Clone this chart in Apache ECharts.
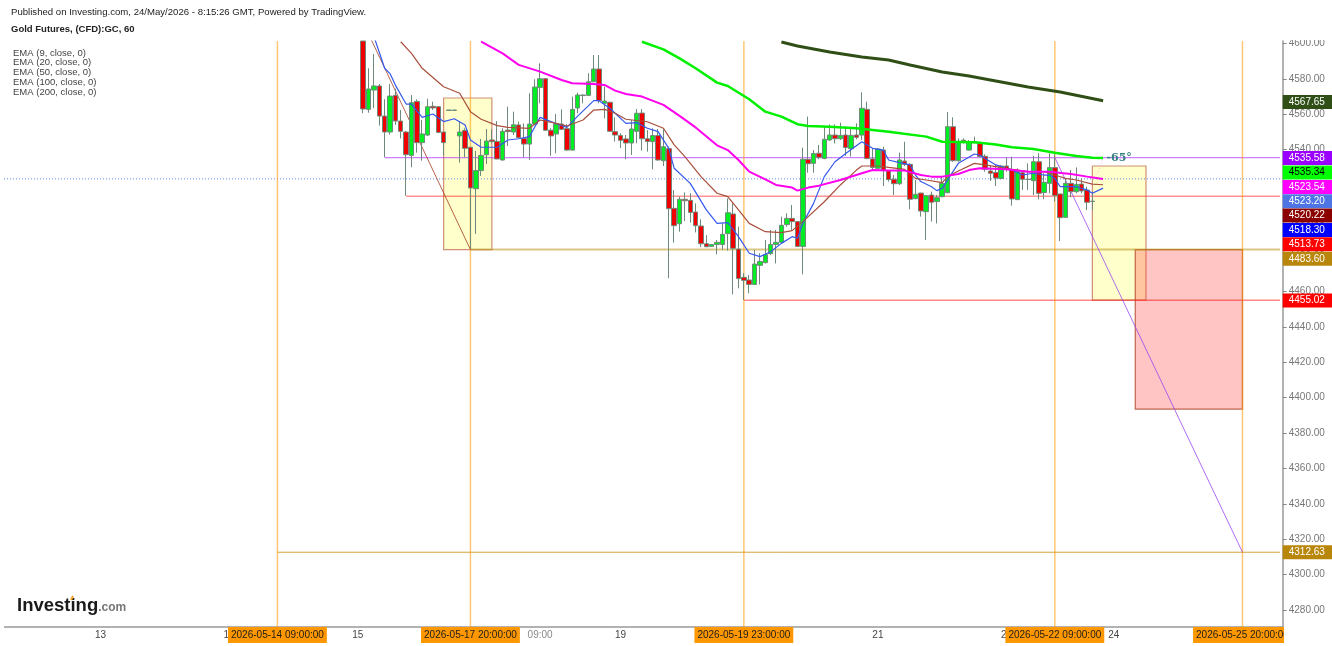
<!DOCTYPE html>
<html>
<head>
<meta charset="utf-8">
<style>html,body{margin:0;padding:0;background:#fff}#main{width:1332px;height:646px}</style>
<script src="https://cdn.jsdelivr.net/npm/echarts@6/dist/echarts.min.js"></script>
</head>
<body>
<div id="main"></div>
<script>
// hourly bars, first visible one sits at slot 67
const slotCount = 239;
const firstBar = 67;

const opens = [
  4601.4, 4562.8, 4573.7, 4576.0, 4559.0, 4550.0, 4570.7, 4556.2, 4550.0, 4536.8,
  4567.3, 4544.0, 4548.3, 4564.5, 4564.3, 4550.0, 4562.2, 4562.2, 4547.8, 4550.8,
  4541.4, 4518.0, 4528.2, 4537.2, 4545.5, 4544.7, 4534.2, 4551.1, 4550.0, 4554.0,
  4546.4, 4543.2, 4554.5, 4575.2, 4580.1, 4551.0, 4548.9, 4554.5, 4551.9, 4539.8,
  4563.6, 4570.9, 4570.7, 4578.4, 4585.6, 4566.2, 4566.8, 4550.2, 4548.1, 4546.1,
  4543.8, 4550.4, 4560.7, 4546.2, 4544.6, 4548.0, 4533.8, 4540.6, 4506.9, 4498.2,
  4512.0, 4511.4, 4504.8, 4496.9, 4486.9, 4485.4, 4486.5, 4486.5, 4492.6, 4503.7,
  4483.9, 4467.9, 4466.4, 4463.9, 4474.7, 4476.2, 4481.3, 4486.5, 4487.7, 4497.7,
  4501.2, 4499.4, 4485.4, 4534.6, 4532.3, 4538.0, 4535.1, 4545.5, 4548.3, 4546.2,
  4548.3, 4540.6, 4548.3, 4548.3, 4562.8, 4534.8, 4529.5, 4539.8, 4528.2, 4523.3,
  4520.8, 4533.6, 4531.7, 4512.4, 4515.5, 4505.0, 4514.4, 4510.7, 4513.5, 4515.7,
  4553.0, 4533.8, 4545.4, 4539.8, 4544.0, 4543.8, 4536.3, 4528.0, 4527.2, 4523.8,
  4530.8, 4528.9, 4511.8, 4527.0, 4523.3, 4522.5, 4533.2, 4515.8, 4521.0, 4529.9,
  4515.0, 4501.8, 4521.0, 4516.3, 4520.6, 4517.2, 4510.8
];
const closes = [
  4563.0, 4574.3, 4576.0, 4559.0, 4550.0, 4570.3, 4556.2, 4550.4, 4537.2, 4566.6,
  4544.0, 4548.9, 4564.3, 4563.6, 4549.8, 4544.0, 4562.4, 4562.4, 4550.0, 4540.8,
  4518.4, 4528.2, 4536.8, 4544.9, 4544.6, 4534.8, 4550.4, 4550.2, 4554.1, 4546.8,
  4543.2, 4554.5, 4575.4, 4580.1, 4551.0, 4547.8, 4554.5, 4551.5, 4539.8, 4562.8,
  4570.9, 4570.6, 4578.4, 4585.6, 4567.7, 4567.5, 4550.4, 4548.3, 4545.3, 4543.8,
  4551.7, 4560.6, 4546.2, 4544.7, 4548.0, 4534.2, 4541.7, 4506.7, 4497.1, 4512.0,
  4511.2, 4504.6, 4497.1, 4486.9, 4485.2, 4486.5, 4487.7, 4492.2, 4504.4, 4484.3,
  4467.2, 4466.2, 4463.9, 4475.4, 4476.9, 4480.7, 4486.5, 4487.7, 4497.3, 4501.2,
  4499.4, 4485.4, 4534.6, 4532.1, 4537.8, 4535.7, 4545.9, 4548.3, 4546.2, 4548.1,
  4541.2, 4548.1, 4547.0, 4563.4, 4535.1, 4530.0, 4540.4, 4528.2, 4523.1, 4520.8,
  4534.2, 4531.7, 4512.0, 4514.8, 4505.4, 4514.0, 4510.3, 4512.9, 4521.0, 4553.0,
  4533.8, 4544.5, 4544.4, 4544.2, 4544.6, 4536.1, 4528.9, 4526.7, 4524.0, 4530.8,
  4528.9, 4512.2, 4527.6, 4523.3, 4523.2, 4533.2, 4515.4, 4521.6, 4529.9, 4514.2,
  4501.6, 4521.0, 4516.3, 4520.4, 4516.7, 4510.3, 4510.9
];
const lows = [
  4560.6, 4560.9, 4563.4, 4553.6, 4535.7, 4548.5, 4554.0, 4546.4, 4514.0, 4530.1,
  4538.3, 4533.8, 4547.8, 4562.4, 4549.3, 4537.0, 4562.2, 4562.2, 4532.7, 4535.7,
  4483.9, 4492.4, 4525.2, 4531.9, 4543.6, 4534.6, 4533.8, 4542.1, 4548.3, 4546.4,
  4535.7, 4534.2, 4554.0, 4566.2, 4550.8, 4536.6, 4538.0, 4551.1, 4539.5, 4539.5,
  4560.6, 4566.2, 4570.3, 4578.2, 4566.2, 4557.7, 4550.2, 4544.6, 4541.0, 4534.6,
  4537.0, 4543.6, 4539.5, 4538.9, 4528.9, 4533.8, 4530.8, 4467.4, 4487.5, 4493.7,
  4499.7, 4498.8, 4493.3, 4484.9, 4484.9, 4485.2, 4480.9, 4483.4, 4483.0, 4458.3,
  4461.7, 4455.1, 4458.9, 4463.6, 4463.9, 4475.8, 4480.5, 4475.8, 4487.1, 4496.5,
  4494.7, 4485.2, 4469.6, 4527.0, 4527.0, 4534.6, 4534.6, 4545.1, 4543.6, 4545.5,
  4536.5, 4536.1, 4545.9, 4545.5, 4534.6, 4528.9, 4528.9, 4519.5, 4522.0, 4514.4,
  4520.1, 4530.8, 4506.3, 4512.0, 4502.2, 4489.0, 4499.4, 4498.4, 4513.1, 4515.4,
  4533.2, 4533.2, 4543.5, 4539.5, 4543.6, 4535.7, 4527.6, 4522.3, 4519.5, 4523.3,
  4527.6, 4508.4, 4511.6, 4517.3, 4517.3, 4514.4, 4512.0, 4512.0, 4515.4, 4510.7,
  4488.4, 4501.6, 4513.1, 4515.4, 4515.4, 4505.9, 4505.9
];
const highs = [
  4601.4, 4586.0, 4594.1, 4577.1, 4568.5, 4577.1, 4574.5, 4562.4, 4550.5, 4570.9,
  4568.5, 4556.8, 4568.8, 4567.1, 4564.6, 4550.3, 4562.4, 4562.4, 4555.9, 4552.1,
  4541.6, 4539.3, 4546.1, 4551.7, 4551.5, 4556.2, 4552.1, 4564.3, 4561.5, 4555.9,
  4554.9, 4571.9, 4579.8, 4588.8, 4580.4, 4552.1, 4560.2, 4562.8, 4554.5, 4570.0,
  4572.2, 4571.2, 4583.2, 4593.5, 4593.5, 4575.6, 4567.0, 4558.3, 4549.3, 4548.3,
  4556.8, 4563.0, 4563.0, 4551.1, 4552.1, 4551.7, 4551.5, 4541.7, 4517.2, 4513.5,
  4515.9, 4515.4, 4509.7, 4500.7, 4491.8, 4486.7, 4489.0, 4498.4, 4512.5, 4509.7,
  4496.5, 4470.2, 4469.2, 4483.4, 4481.5, 4489.0, 4494.7, 4494.7, 4502.2, 4504.1,
  4508.8, 4499.6, 4541.2, 4558.7, 4539.8, 4542.7, 4553.0, 4554.3, 4554.3, 4555.3,
  4553.0, 4553.0, 4554.9, 4572.4, 4567.1, 4540.8, 4540.8, 4541.7, 4528.5, 4525.7,
  4538.3, 4544.5, 4532.3, 4522.9, 4515.7, 4514.4, 4516.3, 4514.4, 4524.8, 4561.3,
  4558.3, 4546.4, 4546.4, 4545.5, 4547.4, 4544.6, 4537.4, 4530.8, 4531.4, 4531.4,
  4535.7, 4536.1, 4529.5, 4528.5, 4532.3, 4536.5, 4538.0, 4526.7, 4538.0, 4537.4,
  4515.0, 4523.8, 4528.5, 4530.0, 4523.8, 4519.1, 4516.3
];

// moving averages as [slot, value]
const ema9 = [[69,4604],[71,4586],[72,4583],[73,4576.5],[75,4565.8],[76,4565.8],[78,4558.3],[80,4560.2],[82,4555.9],[84,4557.5],[86,4554],[87,4545.5],[89,4541.4],[92,4541.4],[94,4545.5],[96,4546.2],[98,4547.4],[100,4558.3],[102,4555.9],[105,4552.6],[107,4559],[110,4567.7],[111,4567.7],[113,4563.4],[116,4554.9],[118,4555.3],[120,4552.1],[122,4550.2],[124,4540.8],[125,4529.5],[128,4521],[131,4506],[133,4498.4],[135,4498.8],[137,4490.9],[139,4481.5],[141,4479.6],[143,4482.4],[145,4487.1],[147,4490.9],[148,4490],[149,4498.4],[151,4509.7],[153,4524.8],[155,4533.2],[157,4537.9],[160,4544.5],[162,4540.8],[164,4539.8],[165,4534.2],[167,4532.7],[169,4531.4],[170,4525.7],[171,4522],[173,4519.1],[174,4516.9],[175,4518.2],[177,4527.6],[178,4532.3],[181,4537.6],[182,4537],[183,4535.1],[185,4531.4],[188,4528.5],[190,4525.7],[192,4526.7],[194,4525.7],[195,4525.7],[196,4523.8],[197,4519.1],[200,4519.1],[202,4517.3],[203,4515.4],[205,4518.3]];
const ema20 = [[74,4601],[76,4594.4],[78,4586],[82,4575.6],[85,4571.9],[87,4561.5],[89,4557.2],[92,4553.6],[94,4552.6],[98,4552.1],[100,4556.8],[103,4554.9],[105,4553.4],[108,4556.8],[110,4562.4],[112,4562.8],[114,4560.6],[116,4557.2],[120,4555.8],[123,4552.1],[125,4542.7],[127,4536.1],[130,4524.8],[133,4515.4],[135,4513.5],[137,4506],[139,4498.4],[142,4493.7],[145,4493.2],[147,4494.3],[149,4499.4],[153,4510.6],[156,4520.1],[159,4528.5],[160,4530.8],[163,4530.8],[165,4530],[168,4528.9],[170,4523.8],[172,4522.9],[175,4521.4],[176,4524.8],[178,4528],[181,4532.3],[183,4531.4],[185,4530.4],[188,4528.9],[191,4527.6],[194,4527.6],[196,4525.7],[198,4523.8],[200,4522.9],[203,4520.6],[205,4520.2]];
const ema50 = [[89,4601],[93,4594.4],[96,4587.9],[100,4584.1],[104,4579.4],[106,4577.5],[110,4577.1],[112,4576.6],[114,4573.4],[116,4571.5],[119,4570],[123,4565.3],[126,4559.1],[129,4552.6],[133,4542.5],[135,4539.8],[137,4534.2],[139,4527.6],[142,4523.3],[144,4520.1],[147,4518.6],[148,4516.9],[150,4518.6],[152,4519.7],[156,4522.9],[160,4526.7],[162,4528.5],[165,4528.2],[168,4528.2],[171,4525.7],[173,4524.8],[175,4524.8],[178,4526.3],[180,4528.5],[182,4529.5],[187,4528.9],[191,4527.6],[195,4527.6],[199,4526.3],[202,4524.8],[205,4523.5]];
const ema100 = [[119,4601],[123,4596.7],[126,4591.6],[129,4586],[133,4577.9],[135,4576],[139,4568.5],[142,4561.5],[145,4558.7],[148,4554.4],[150,4553.4],[154,4553],[159,4552.1],[165,4550.2],[172,4547.4],[175,4544.5],[181,4544.2],[185,4543],[188,4541.4],[192,4540.4],[196,4538.3],[200,4536.5],[203,4535.5],[205,4535.3]];
const ema200 = [[145,4600.8],[148,4598.6],[154,4595.2],[160,4592.4],[165,4590.7],[169,4587.9],[175,4583.9],[180,4581.6],[186,4578.3],[191,4575.4],[197,4572.6],[205,4567.65]];

const legendRows = ['EMA (9, close, 0)', 'EMA (20, close, 0)', 'EMA (50, close, 0)', 'EMA (100, close, 0)', 'EMA (200, close, 0)'];

// drawn levels: start slot, price
const levelStart = [71, 75, 87, 138, 51];
const levelPrice = [4535.58, 4513.73, 4483.60, 4455.02, 4312.63];
const lastPrice = 4523.54;

const markerSlots = [51, 87, 138, 196, 231];
const markerText = ['2026-05-14 09:00:00', '2026-05-17 20:00:00', '2026-05-19 23:00:00', '2026-05-22 09:00:00', '2026-05-25 20:00:00'];

const daySlots = [18, 42, 66, 115, 163, 187, 207];
const dayText = ['13', '14', '15', '19', '21', '22', '24'];
const hourSlots = [100];
const hourText = ['09:00'];
const bareTickSlots = [220];

// [slot, top, slot, bottom]
const zones = [
  [82, 4569.2, 91, 4483.6],
  [203, 4530.8, 213, 4455.02],
  [211, 4483.6, 231, 4393.5]
];
const brownTrend = [[68, 4605.4], [87, 4483.6]];
const purpleTrend = [[196, 4535.58], [231, 4312.63]];
const angleArc = [[203, 4523.5], [204, 4527], [205, 4535]];

const priceTicks = [4280, 4300, 4320, 4340, 4360, 4380, 4400, 4420, 4440, 4460, 4480, 4500, 4520, 4540, 4560, 4580, 4600];

// tag text, and the price height the tag is pushed to so they do not overlap
const tagText = ['4567.65', '4535.58', '4535.34', '4523.54', '4523.20', '4520.22', '4518.30', '4513.73', '4483.60', '4455.02', '4312.63'];
const tagSpot = [4567.0, 4535.3, 4527.2, 4519.0, 4510.9, 4502.8, 4494.7, 4486.6, 4478.4, 4454.8, 4312.63];
const tagFill = ['#2f4f17', '#9900ff', '#00ff00', '#ff00ff', '#4f74e3', '#8b0000', '#0000ff', '#ff0000', '#b8860b', '#ff0000', '#b8860b'];
const tagInk = ['#fff', '#fff', '#000', '#fff', '#fff', '#fff', '#fff', '#fff', '#fff', '#fff', '#fff'];

const font = '"Liberation Sans", Arial, sans-serif';
const chart = echarts.init(document.getElementById('main'));

const categories = Array.from({ length: slotCount }, (_, i) => String(i));
const candleData = categories.map((_, i) => {
  const k = i - firstBar;
  if (k < 0 || k >= opens.length) return ['-', '-', '-', '-'];
  return [opens[k], closes[k], lows[k], highs[k]];
});

const labelFor = {};
daySlots.forEach((s, i) => { labelFor[s] = '{day|' + dayText[i] + '}'; });
hourSlots.forEach((s, i) => { labelFor[s] = '{hour|' + hourText[i] + '}'; });
markerSlots.forEach((s, i) => { labelFor[s] = '{stamp|' + markerText[i] + '}'; });

function plainLine(data, color, width, z, type) {
  return {
    type: 'line', data, symbol: 'none', silent: true, z,
    lineStyle: { color, width, type: type || 'solid' }
  };
}

const zoneStyles = [
  { fill: 'rgba(255,255,170,0.6)', stroke: 'rgba(178,70,40,0.6)' },
  { fill: 'rgba(255,255,170,0.6)', stroke: 'rgba(178,70,40,0.6)' },
  { fill: 'rgba(255,60,60,0.3)', stroke: 'rgba(178,70,40,0.8)' }
];

const levelStyles = [
  ['rgba(153,0,255,0.5)', 1.2], ['rgba(255,40,40,0.5)', 1.5], ['rgba(190,150,30,0.55)', 2],
  ['rgba(255,30,30,0.8)', 1], ['rgba(200,140,10,0.8)', 1]
];

const series = [
  {
    type: 'custom', z: 1, silent: true,
    data: zones,
    encode: { x: [0, 2], y: [1, 3] },
    renderItem(params, api) {
      const a = api.coord([api.value(0), api.value(1)]);
      const b = api.coord([api.value(2), api.value(3)]);
      const st = zoneStyles[params.dataIndex];
      return {
        type: 'rect',
        shape: { x: a[0], y: a[1], width: b[0] - a[0], height: b[1] - a[1] },
        style: { fill: st.fill, stroke: st.stroke, lineWidth: 1.2 }
      };
    }
  }
];

levelPrice.forEach((p, i) => {
  series.push(plainLine([[levelStart[i], p], [slotCount - 1, p]], levelStyles[i][0], levelStyles[i][1], 2));
});
series.push(plainLine([[0, lastPrice], [slotCount - 1, lastPrice]], '#5f86e8', 1, 2, [1, 2]));
markerSlots.forEach(s => {
  series.push(plainLine([[s, 4270.4], [s, 4601.41]], 'rgba(255,152,0,0.55)', 1.5, 2));
});
series.push(plainLine(brownTrend, 'rgba(165,60,30,0.8)', 1, 2));
series.push(plainLine(purpleTrend, 'rgba(150,60,240,0.75)', 1, 2));

series.push({
  type: 'candlestick', z: 3, silent: true, barWidth: 5, clip: true,
  data: candleData,
  itemStyle: { color: '#00ee22', color0: '#f00000', borderColor: '#6f8a7a', borderColor0: '#6f8a7a', borderWidth: 1 }
});

series.push(plainLine(ema9, '#3558ee', 1.2, 4));
series.push(plainLine(ema20, '#a8503c', 1.2, 4));
series.push(plainLine(ema50, '#ff00ee', 2, 4));
series.push(plainLine(ema100, '#00f000', 2.5, 4));
series.push(plainLine(ema200, '#2f4f17', 3, 4));

const arc = plainLine(angleArc, 'rgba(255,150,220,0.7)', 1, 4, [1, 2]);
arc.markPoint = {
  symbol: 'circle', symbolSize: 0, silent: true,
  data: [{ coord: [208, 4535.3] }],
  label: { show: true, position: 'inside', formatter: '-65°', color: '#33807f', fontFamily: '"DejaVu Serif", serif', fontWeight: 'bold', fontSize: 11 }
};
series.push(arc);

series.push({
  type: 'custom', z: 10, silent: true,
  data: tagSpot.map(v => [0, v]),
  encode: { x: 0, y: 1 },
  renderItem(params, api) {
    const y = api.coord([0, api.value(1)])[1];
    const left = params.coordSys.x + params.coordSys.width;
    const i = params.dataIndex;
    return {
      type: 'group',
      children: [
        { type: 'rect', shape: { x: left, y: y - 7, width: 50, height: 14 }, style: { fill: tagFill[i] } },
        { type: 'text', style: { x: left + 6, y: y, text: tagText[i], fill: tagInk[i], font: '10px ' + font, textVerticalAlign: 'middle', verticalAlign: 'middle' } }
      ]
    };
  }
});

const option = {
  animation: false,
  backgroundColor: '#fff',
  textStyle: { fontFamily: font },
  title: [
    { text: 'Published on Investing.com, 24/May/2026 - 8:15:26 GMT, Powered by TradingView.', left: 11, top: 7, padding: 0, textStyle: { fontSize: 9.6, fontWeight: 'normal', color: '#222', fontFamily: font } },
    { text: 'Gold Futures, (CFD):GC, 60', left: 11, top: 24, padding: 0, textStyle: { fontSize: 9.5, fontWeight: 'bold', color: '#222', fontFamily: font } },
    { text: legendRows.join('\n'), left: 13, top: 48, padding: 0, textStyle: { fontSize: 9.5, fontWeight: 'normal', color: '#444', lineHeight: 9.9, fontFamily: font } },
    {
      text: '{a|Investing}{b|.com}', left: 17, top: 596, padding: 0,
      textStyle: {
        fontFamily: font,
        rich: {
          a: { fontSize: 18.5, fontWeight: 'bold', color: '#1a1a1a', fontFamily: font },
          b: { fontSize: 12, color: '#777', fontFamily: font, padding: [5, 0, 0, 0] }
        }
      }
    }
  ],
  grid: { left: 1.3, right: 49.3, top: 41, bottom: 19 },
  xAxis: {
    type: 'category',
    data: categories,
    boundaryGap: true,
    axisLine: { lineStyle: { color: '#999', width: 1.5 } },
    axisTick: {
      alignWithLabel: true, length: 4, lineStyle: { color: '#888' },
      interval: i => labelFor[i] !== undefined || bareTickSlots.includes(i)
    },
    axisLabel: {
      interval: i => labelFor[i] !== undefined,
      margin: 0,
      hideOverlap: false,
      formatter: (v, i) => labelFor[i] || '',
      rich: {
        day: { fontSize: 10, color: '#444', height: 16, lineHeight: 16, fontFamily: font },
        hour: { fontSize: 10, color: '#888', height: 16, lineHeight: 16, fontFamily: font },
        stamp: { fontSize: 10, color: '#1c1c1c', height: 16, lineHeight: 16, backgroundColor: '#ff9800', padding: [0, 3], fontFamily: font }
      }
    },
    splitLine: { show: false }
  },
  yAxis: {
    type: 'value',
    position: 'right',
    min: 4270.4,
    max: 4601.41,
    axisLine: { show: true, lineStyle: { color: '#999', width: 1.5 } },
    axisTick: { show: true, length: 4, lineStyle: { color: '#888' }, customValues: priceTicks },
    axisLabel: {
      customValues: priceTicks, margin: 6, color: '#777', fontSize: 10, fontFamily: font, padding: [2, 0, 0, 0],
      formatter: v => v.toFixed(2), hideOverlap: false
    },
    splitLine: { show: false }
  },
  // white strips crop the axis text and line the way the plot edge does in the source
  graphic: [
    { type: 'rect', z: 100, silent: true, shape: { x: 1284, y: 625, width: 50, height: 21 }, style: { fill: '#fff' } },
    { type: 'rect', z: 100, silent: true, shape: { x: 1284, y: 30, width: 50, height: 10 }, style: { fill: '#fff' } },
    { type: 'rect', z: 100, silent: true, shape: { x: 0, y: 624, width: 4, height: 6 }, style: { fill: '#fff' } },
    { type: 'line', z: 100, silent: true, shape: { x1: 71, y1: 600, x2: 73, y2: 596 }, style: { stroke: '#f5a623', lineWidth: 2 } }
  ],
  series
};

chart.setOption(option);
</script>
</body>
</html>
